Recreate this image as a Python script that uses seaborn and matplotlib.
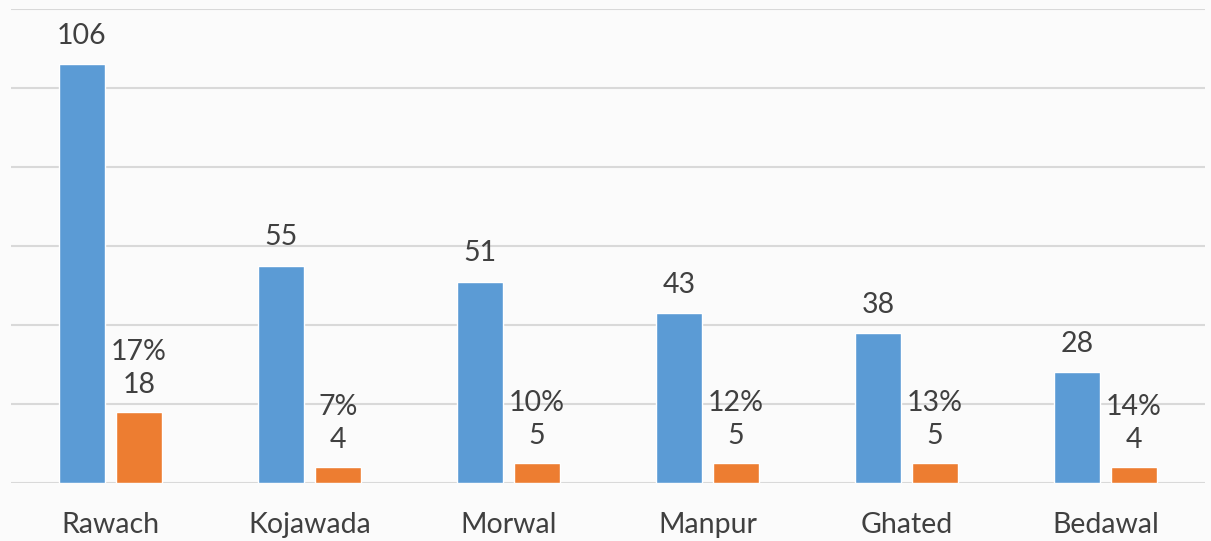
import matplotlib
matplotlib.use("Agg")
import matplotlib.pyplot as plt
import seaborn as sns
import pandas as pd

villages = ["Rawach", "Kojawada", "Morwal", "Manpur", "Ghated", "Bedawal"]
total_values = [106, 55, 51, 43, 38, 28]
sub_values = [18, 4, 5, 5, 5, 4]
sub_percent = [17, 7, 10, 12, 13, 14]
series_names = ["Total", "Subset"]

sns.set_theme(style="white")
plt.rcParams["font.family"] = ["Lato", "DejaVu Sans"]

df = pd.DataFrame({
    "village": villages * 2,
    "value": total_values + sub_values,
    "series": [series_names[0]] * len(villages) + [series_names[1]] * len(villages),
})

fig = plt.figure(figsize=(12.11, 5.41), dpi=100)
fig.patch.set_facecolor("#fbfbfb")
ax = fig.add_axes([11 / 1211, (541 - 483) / 541, 1194 / 1211, (483 - 9) / 541])
ax.set_facecolor("#fbfbfb")

sns.barplot(data=df, x="village", y="value", hue="series",
            palette=["#5B9BD5", "#ED7D31"], saturation=1, width=0.573, gap=0.21,
            ax=ax, legend=False, zorder=3)

ax.set_ylim(0, 120)
ax.set_xlim(-0.5, len(villages) - 0.5)
ax.set_yticks(range(0, 121, 20))
ax.yaxis.grid(True, color="#d9d9d9", linewidth=1.5, zorder=0)
ax.set_axisbelow(True)
for s in ax.spines.values():
    s.set_visible(False)
ax.tick_params(axis="y", left=False, labelleft=False)
ax.tick_params(axis="x", bottom=False, pad=15, labelsize=20.5, labelcolor="#404040")
ax.set_xlabel("")
ax.set_ylabel("")

text_color = "#404040"
ax.bar_label(ax.containers[0], labels=[str(v) for v in total_values],
             padding=11, fontsize=20.5, color=text_color)
ax.bar_label(ax.containers[1],
             labels=[f"{p}%\n{v}" for p, v in zip(sub_percent, sub_values)],
             padding=10, fontsize=20.5, color=text_color, linespacing=1.35)

fig.savefig("out.png", dpi=100, facecolor=fig.get_facecolor())
